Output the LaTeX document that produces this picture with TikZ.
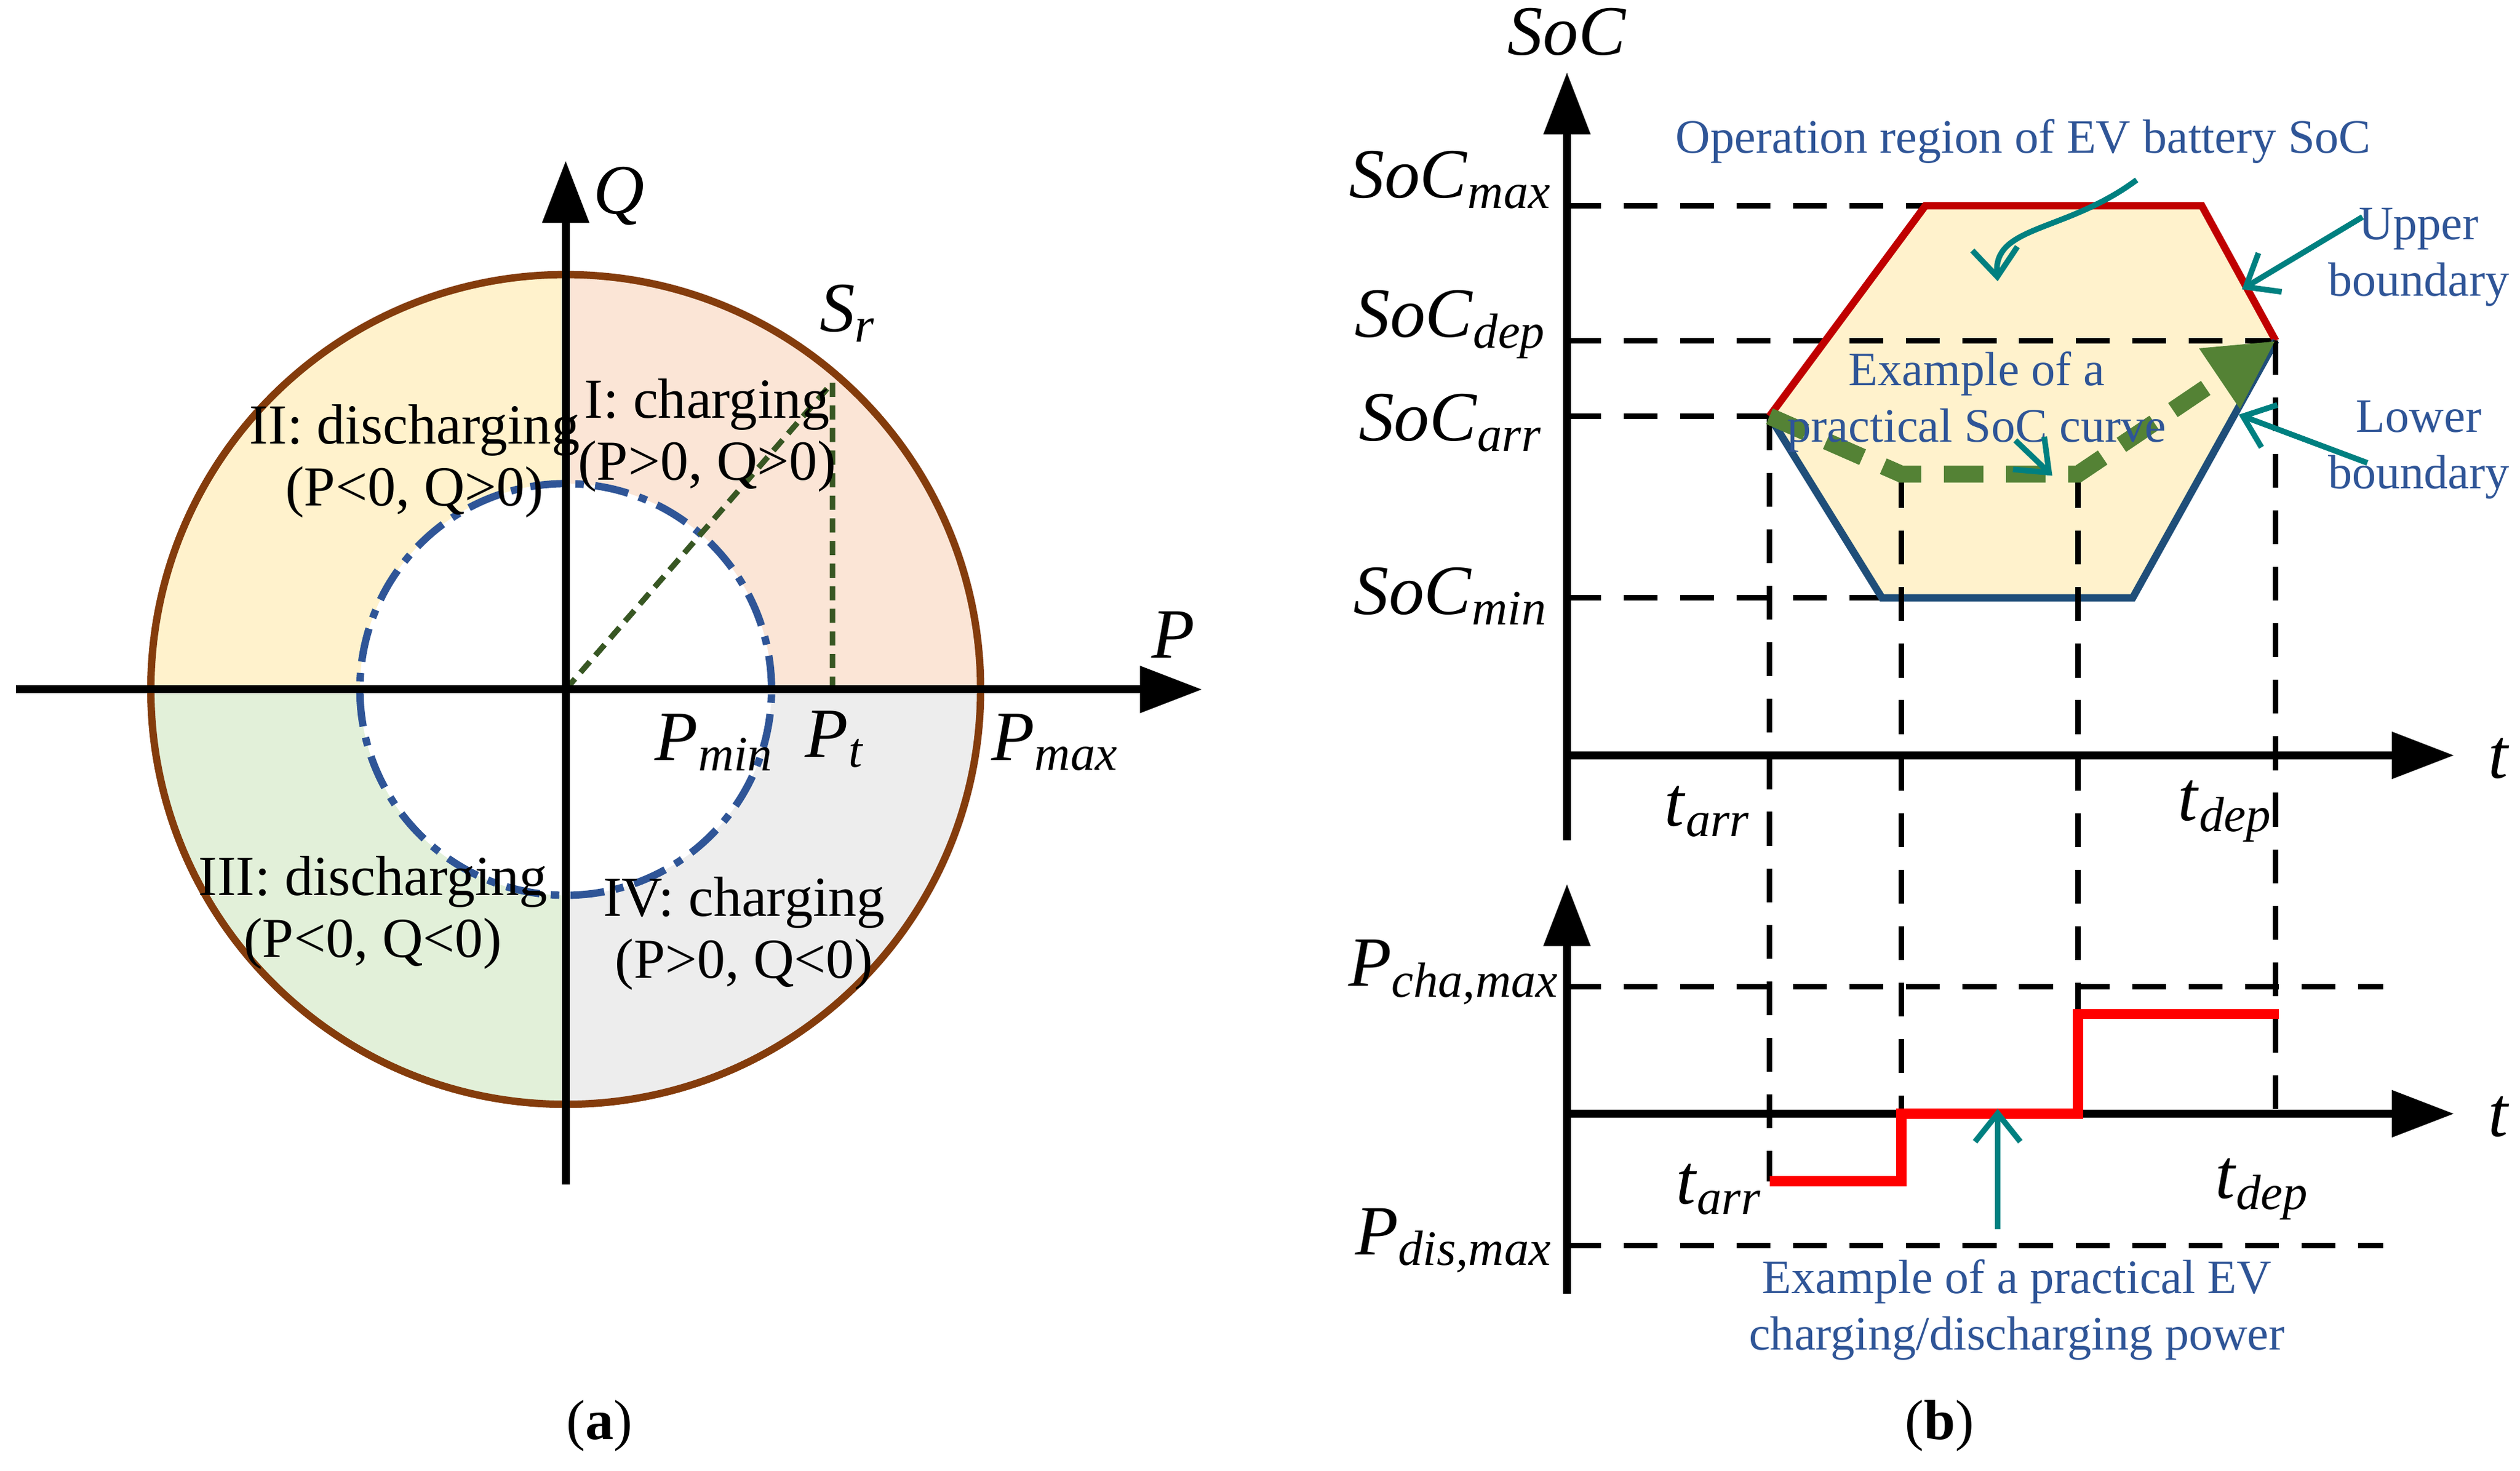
\documentclass[tikz,border=0pt]{standalone}
\usepackage{fontspec}
\setmainfont{Liberation Serif}
\usetikzlibrary{arrows.meta}
\definecolor{qI}{HTML}{FBE5D6}
\definecolor{qII}{HTML}{FFF2CC}
\definecolor{qIII}{HTML}{E2F0D9}
\definecolor{qIV}{HTML}{EDEDED}
\definecolor{brownc}{HTML}{843C0C}
\definecolor{bluec}{HTML}{2F5597}
\definecolor{lowc}{HTML}{1F4E79}
\definecolor{redc}{HTML}{C00000}
\definecolor{greenc}{HTML}{548235}
\definecolor{darkg}{HTML}{385723}
\definecolor{tealc}{HTML}{008080}
\newcommand{\mysub}[2]{\textit{#1}\textsubscript{\textit{#2}}}
\begin{document}
\begin{tikzpicture}[x=0.01cm,y=-0.01cm,
  ax/.style={line width=1.4pt,-{Triangle[length=11pt,width=8pt]}},
  lbl/.style={font=\fontsize{10}{11}\selectfont,align=center,inner sep=1pt},
  ml/.style={font=\fontsize{12.5}{13}\selectfont,inner sep=1pt},
  note/.style={font=\fontsize{8.5}{10}\selectfont,text=bluec,align=center,inner sep=1pt},
  dsh/.style={line width=1pt,dash pattern=on 6pt off 4pt},
  tarr/.style={tealc,line width=1pt,-{Straight Barb[length=5pt,width=8pt]}}]
\useasboundingbox (0,0) rectangle (1568,915);
% ---------- panel (a)
\coordinate (O) at (352,429);
\fill[qI] (O) -- (610,429) arc[start angle=0,end angle=90,radius=2.58cm] -- cycle;
\fill[qII] (O) -- (352,171) arc[start angle=90,end angle=180,radius=2.58cm] -- cycle;
\fill[qIII] (O) -- (94,429) arc[start angle=180,end angle=270,radius=2.58cm] -- cycle;
\fill[qIV] (O) -- (352,687) arc[start angle=270,end angle=360,radius=2.58cm] -- cycle;
\fill[white] (O) circle[radius=1.28cm];
\draw[brownc,line width=1.3pt] (O) circle[radius=2.58cm];
\draw[bluec,line width=1.3pt,dash pattern=on 6pt off 2pt on 1.5pt off 2pt] (O) circle[radius=1.28cm];
\coordinate (S) at (518,238);
\coordinate (Pt) at (518,429);
\draw[darkg,line width=1pt,dash pattern=on 2.5pt off 1.5pt] (O) -- (S) -- (Pt);
\coordinate (Qb) at (352,737);
\coordinate (Qt) at (352,100);
\coordinate (Pl) at (10,429);
\coordinate (Pr) at (748,429);
\draw[ax] (Qb) -- (Qt);
\draw[ax] (Pl) -- (Pr);
\node[ml] (lQ) at (385,122) {\textit{Q}};
\node[ml] (lP) at (730,395) {\textit{P}};
\node[ml] (lS) at (528,195) {\mysub{S}{r}};
\node[ml] (lPmin) at (445,462) {\mysub{P}{min}};
\node[ml] (lPt) at (520,460) {\mysub{P}{t}};
\node[ml] (lPmax) at (657,462) {\mysub{P}{max}};
\node[lbl] (q2) at (258,287) {II: discharging\\(P<0, Q>0)};
\node[lbl] (q1) at (440,271) {I: charging\\(P>0, Q>0)};
\node[lbl] (q3) at (232,568) {III: discharging\\(P<0, Q<0)};
\node[lbl] (q4) at (463,581) {IV: charging\\(P>0, Q<0)};
\node[lbl] (ca) at (373,887) {(\textbf{a})};
\node[lbl] (cb) at (1207,887) {(\textbf{b})};
% ---------- panel (b) upper
\coordinate (A0) at (975,523);
\coordinate (A1) at (975,45);
\coordinate (T0) at (975,470);
\coordinate (T1) at (1527,470);
\coordinate (h1) at (1101,259);
\coordinate (h2) at (1198,128);
\coordinate (h3) at (1370,128);
\coordinate (h4) at (1416,212);
\coordinate (h5) at (1327,372);
\coordinate (h6) at (1171,372);
\fill[qII] (h1) -- (h2) -- (h3) -- (h4) -- (h5) -- (h6) -- cycle;
\draw[dsh] (975,128) -- (h2);
\draw[dsh] (975,212) -- (h4);
\draw[dsh] (975,259) -- (h1);
\draw[dsh] (975,372) -- (h6);
\draw[redc,line width=1.3pt] (h1) -- (h2) -- (h3) -- (h4);
\draw[lowc,line width=1.3pt] (h4) -- (h5) -- (h6) -- (h1);
\coordinate (g2) at (1183,295);
\coordinate (g3) at (1293,295);
\draw[dsh] (h1) -- (1101,735);
\draw[dsh] (g2) -- (1183,735);
\draw[dsh] (g3) -- (1293,631);
\draw[dsh] (h4) -- (1416,693);
\draw[greenc,line width=3pt,dash pattern=on 7pt off 4pt,-{Triangle[length=12pt,width=12pt]}] (h1) -- (g2) -- (g3) -- (h4);
\draw[ax] (A0) -- (A1);
\draw[ax] (T0) -- (T1);
\node[ml] (lSoC) at (975,20) {\textit{SoC}};
\node[ml] (lt1) at (1555,472) {\textit{t}};
\node[ml] (lmax) at (903,112) {\mysub{SoC}{max}};
\node[ml] (ldep) at (903,202) {\mysub{SoC}{dep}};
\node[ml] (larr) at (903,263) {\mysub{SoC}{arr}};
\node[ml] (lmin) at (903,371) {\mysub{SoC}{min}};
\node[ml] (ltarr) at (1063,505) {\mysub{t}{arr}};
\node[ml] (ltdep) at (1385,505) {\mysub{t}{dep}};
\node[note] (nop) at (1259,88) {Operation region of EV battery SoC};
\node[note] (nup) at (1505,160) {Upper\\boundary};
\node[note] (nlo) at (1505,280) {Lower\\boundary};
\node[note] (nex) at (1230,250) {Example of a\\practical SoC curve};
\draw[tarr] (nop.south east) ++(-150,6) .. controls (1285,145) and (1240,140) .. (1243,175);
\draw[tarr] (1470,135) -- (1395,180);
\draw[tarr] (1473,288) -- (1393,258);
\draw[tarr] (1254,274) -- (1277,296);
% ---------- panel (b) lower
\coordinate (B0) at (975,805);
\coordinate (B1) at (975,550);
\coordinate (U0) at (975,693);
\coordinate (U1) at (1527,693);
\draw[dsh] (975,614) -- (1483,614);
\draw[dsh] (975,775) -- (1483,775);
\draw[ax] (B0) -- (B1);
\draw[ax] (U0) -- (U1);
\draw[red,line width=1.8pt] (1101,735) -- (1183,735) -- (1183,693) -- (1293,693) -- (1293,631) -- (1418,631);
\node[ml] (lt2) at (1555,695) {\textit{t}};
\node[ml] (lcha) at (905,605) {\mysub{P}{cha,max}};
\node[ml] (ldis) at (905,772) {\mysub{P}{dis,max}};
\node[ml] (ltarr2) at (1070,740) {\mysub{t}{arr}};
\node[ml] (ltdep2) at (1408,740) {\mysub{t}{dep}};
\node[note] (npw) at (1255,815) {Example of a practical EV\\charging/discharging power};
\draw[tarr] (1243,765) -- (1243,690);
\end{tikzpicture}
\end{document}
